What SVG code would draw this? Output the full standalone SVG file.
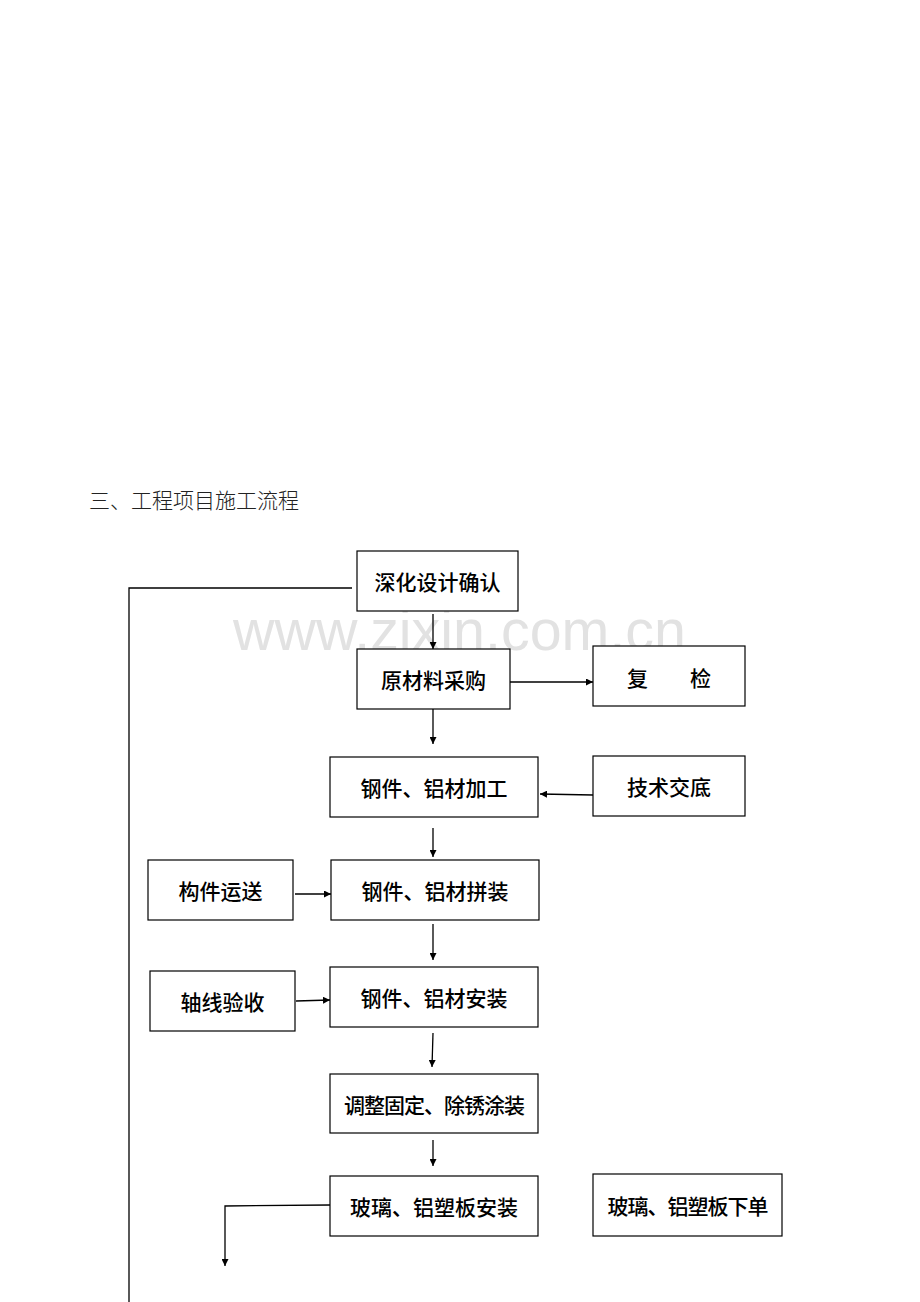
<svg xmlns="http://www.w3.org/2000/svg" width="920" height="1302" viewBox="0 0 920 1302">
<style>
.box{fill:#fff;stroke:#000;stroke-width:1.2}
.t{font-family:"Noto Sans CJK SC","Noto Sans",sans-serif;font-size:21px;font-weight:500;fill:#000;text-anchor:middle;dominant-baseline:central}
.c{fill:none;stroke:#000;stroke-width:1.3}
</style>
<defs>
<marker id="ah" viewBox="0 0 10 10" refX="10" refY="5" markerWidth="7" markerHeight="7" markerUnits="userSpaceOnUse" orient="auto"><path d="M0,0 L10,5 L0,10 Z" fill="#000"/></marker>
</defs>
<rect width="920" height="1302" fill="#fff"/>
<text x="89" y="508" font-family="Noto Sans CJK SC, sans-serif" font-size="21" font-weight="300" fill="#222">三、工程项目施工流程</text>
<text x="233" y="650" font-family="Liberation Sans, Arial, sans-serif" font-size="57" fill="#e2e2e2" textLength="453" lengthAdjust="spacingAndGlyphs">www.zixin.com.cn</text>
<g id="connectors">
<polyline class="c" points="352,588 129,588 129,1302"/>
<line class="c" x1="433" y1="614" x2="433" y2="649" marker-end="url(#ah)"/>
<line class="c" x1="510" y1="682" x2="593" y2="682" marker-end="url(#ah)"/>
<line class="c" x1="433" y1="709" x2="433" y2="744" marker-end="url(#ah)"/>
<line class="c" x1="593" y1="795" x2="540" y2="794" marker-end="url(#ah)"/>
<line class="c" x1="433" y1="828" x2="433" y2="857" marker-end="url(#ah)"/>
<line class="c" x1="295" y1="894" x2="331" y2="894" marker-end="url(#ah)"/>
<line class="c" x1="433" y1="924" x2="433" y2="960" marker-end="url(#ah)"/>
<line class="c" x1="296" y1="1001" x2="330" y2="1000" marker-end="url(#ah)"/>
<line class="c" x1="433" y1="1033" x2="432" y2="1067" marker-end="url(#ah)"/>
<line class="c" x1="433" y1="1140" x2="433" y2="1166" marker-end="url(#ah)"/>
<polyline class="c" points="330,1205 225,1206 225,1266" marker-end="url(#ah)"/>
</g>
<g id="n1"><rect class="box" x="357" y="551" width="161" height="60"/><text class="t" x="437.5" y="581">深化设计确认</text></g>
<g id="n2"><rect class="box" x="357" y="649" width="153" height="60"/><text class="t" x="433.5" y="679">原材料采购</text></g>
<g id="n3"><rect class="box" x="593" y="646" width="152" height="60"/><text class="t" x="669" y="677" xml:space="preserve">复　　检</text></g>
<g id="n4"><rect class="box" x="330" y="757" width="208" height="60"/><text class="t" x="434" y="787">钢件、铝材加工</text></g>
<g id="n5"><rect class="box" x="593" y="756" width="152" height="60"/><text class="t" x="669" y="786">技术交底</text></g>
<g id="n6"><rect class="box" x="148" y="860" width="145" height="60"/><text class="t" x="220.5" y="890">构件运送</text></g>
<g id="n7"><rect class="box" x="331" y="860" width="208" height="60"/><text class="t" x="435" y="890">钢件、铝材拼装</text></g>
<g id="n8"><rect class="box" x="150" y="971" width="145" height="60"/><text class="t" x="222.5" y="1001">轴线验收</text></g>
<g id="n9"><rect class="box" x="330" y="967" width="208" height="60"/><text class="t" x="434" y="997">钢件、铝材安装</text></g>
<g id="n10"><rect class="box" x="330" y="1074" width="208" height="59"/><text class="t" x="434" y="1104" letter-spacing="-1">调整固定、除锈涂装</text></g>
<g id="n11"><rect class="box" x="330" y="1176" width="208" height="60"/><text class="t" x="434" y="1206">玻璃、铝塑板安装</text></g>
<g id="n12"><rect class="box" x="593" y="1174" width="189" height="62"/><text class="t" x="687.5" y="1205" letter-spacing="-1">玻璃、铝塑板下单</text></g>
</svg>
